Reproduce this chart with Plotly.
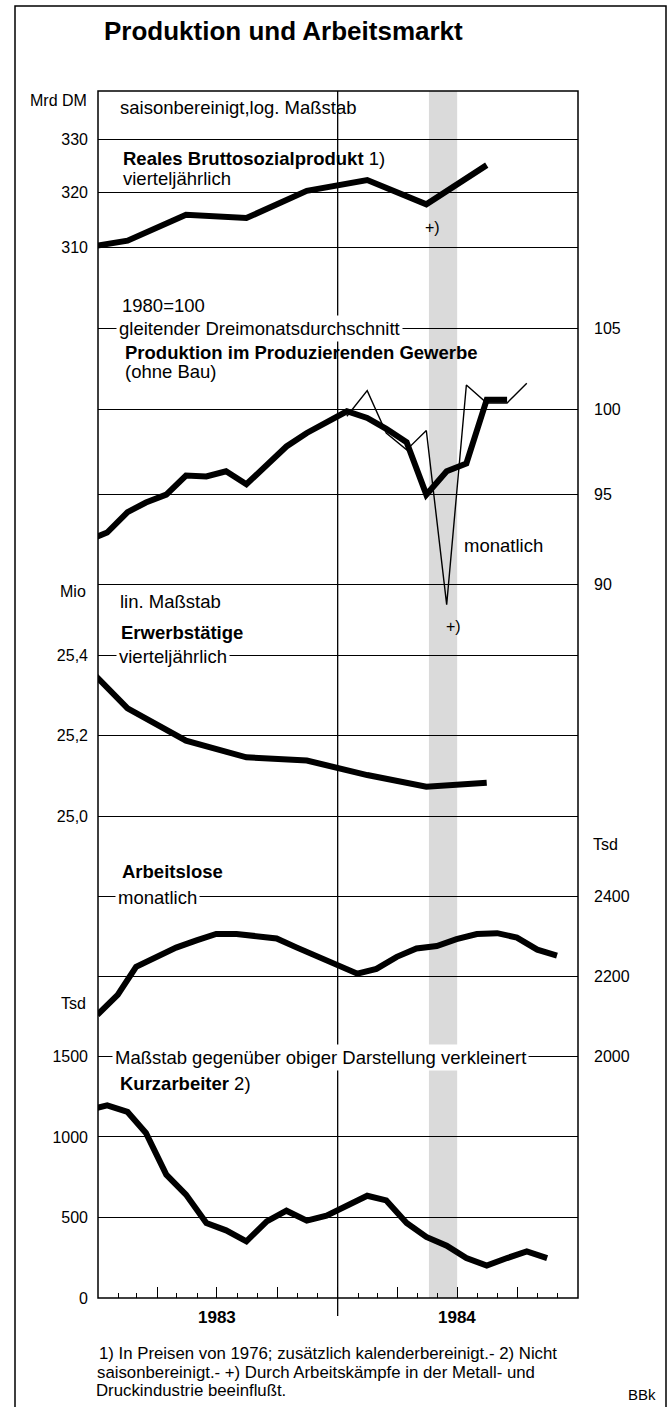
import plotly.graph_objects as go
import pandas as pd
from datetime import date

# ---------------- data ----------------
# quarterly series, plotted at quarter centres (Q4 1982 ... Q3 1984)
quarter_dates = ["1982-11-15", "1983-02-15", "1983-05-15", "1983-08-15",
                 "1983-11-15", "1984-02-15", "1984-05-15", "1984-08-15"]
gnp = [309.4, 311.2, 315.9, 315.3, 320.3, 322.3, 317.8, 325.1]          # Mrd DM
employed = [25.42, 25.268, 25.188, 25.147, 25.139, 25.103, 25.074, 25.084]  # Mio

# production, 3-month moving average (Dec 1982 ... Sep 1984), 1980=100
prod_avg_months = pd.date_range("1982-12-01", periods=22, freq="MS") + pd.Timedelta(days=14)
prod_avg = [92.4, 92.85, 94.0, 94.55, 95.0, 96.1, 96.05, 96.35, 95.6, 96.7, 97.8,
            98.6, 99.25, 99.9, 99.5, 98.85, 98.05, 95.0, 96.35, 96.8, 100.6, 100.6]
# production, monthly (Jan 1984 ... Oct 1984)
prod_month_months = pd.date_range("1984-01-01", periods=10, freq="MS") + pd.Timedelta(days=14)
prod_month = [99.6, 101.15, 98.6, 97.6, 98.75, 88.9, 101.5, 100.4, 100.4, 101.6]

# unemployed, end of month (Dec 1982 ... Nov 1984), Tsd
unemp_months = pd.date_range("1983-01-01", periods=24, freq="MS") - pd.Timedelta(days=1)
unemployed = [2104, 2154, 2224, 2249, 2272, 2290, 2306, 2306, 2302, 2295, 2272, 2252,
              2231, 2207, 2219, 2249, 2270, 2276, 2293, 2306, 2308, 2297, 2267, 2252]

# short-time workers (Dec 1982 ... Nov 1984), Tsd
short_months = pd.date_range("1982-12-01", periods=24, freq="MS") + pd.Timedelta(days=14)
short_time = [1165, 1196, 1155, 1025, 766, 642, 466, 420, 352, 476, 542, 480,
              511, 569, 635, 606, 466, 379, 325, 248, 201, 248, 289, 248]

gnp_ticks = [310, 320, 330]
prod_ticks = [90, 95, 100, 105]
emp_ticks = [25.0, 25.2, 25.4]
emp_ticktext = ["25,0", "25,2", "25,4"]
unemp_ticks = [2000, 2200, 2400]
short_ticks = [0, 500, 1000, 1500]
year_labels = ["1983", "1984"]

strike_start, strike_end = "1984-05-19", "1984-07-01"
x_start, x_end = date(1983, 1, 1), date(1985, 1, 1)

# ---------------- layout geometry ----------------
W, H = 668, 1407
L, R, T, B = 98, 578, 91, 1298
FONT = "Liberation Sans, Arial, Helvetica, sans-serif"
TXT = 18.5


def px(x):
    return (x - L) / (R - L)


def py(y):
    return (B - y) / (B - T)


def dfrac(d):
    return (d - x_start).days / (x_end - x_start).days


fig = go.Figure()
thick = dict(color="black", width=6)
thin = dict(color="black", width=1.4)

fig.add_trace(go.Scatter(x=quarter_dates, y=gnp, yaxis="y", mode="lines", line=thick))
fig.add_trace(go.Scatter(x=prod_avg_months, y=prod_avg, yaxis="y2", mode="lines", line=thick))
fig.add_trace(go.Scatter(x=prod_month_months, y=prod_month, yaxis="y2", mode="lines", line=thin))
fig.add_trace(go.Scatter(x=quarter_dates, y=employed, yaxis="y3", mode="lines", line=thick))
fig.add_trace(go.Scatter(x=unemp_months, y=unemployed, yaxis="y4", mode="lines", line=thick))
fig.add_trace(go.Scatter(x=short_months, y=short_time, yaxis="y5", mode="lines", line=thick))

grid = dict(showgrid=True, gridcolor="black", gridwidth=1.3, zeroline=False,
            ticks="", showline=False, automargin=False, domain=[0, 1],
            tickfont=dict(size=16, color="black", family=FONT))

fig.update_layout(
    width=W, height=H, template="none",
    margin=dict(l=L, r=W - R, t=T, b=H - B, pad=0),
    paper_bgcolor="white", plot_bgcolor="rgba(0,0,0,0)",
    showlegend=False, font=dict(family=FONT, color="black"),
    xaxis=dict(type="date", range=[str(x_start), str(x_end)], showgrid=False,
               zeroline=False, showline=False, showticklabels=False,
               tick0="1983-01-01", dtick="M3", ticks="inside", ticklen=11,
               tickwidth=1.3, tickcolor="black", automargin=False,
               minor=dict(dtick="M1", ticks="inside", ticklen=5, tickwidth=1.3,
                          tickcolor="black", showgrid=False)),
    yaxis=dict(type="log", range=[2.227226, 2.530652], tickvals=gnp_ticks,
               side="left", ticklabelstandoff=9, **grid),
    yaxis2=dict(type="log", range=[1.767195, 2.083495], tickvals=prod_ticks,
                side="right", overlaying="y", anchor="x", ticklabelstandoff=15, **grid),
    yaxis3=dict(range=[23.8094, 26.79518], tickvals=emp_ticks, ticktext=emp_ticktext,
                side="left", overlaying="y", anchor="x", ticklabelstandoff=9, **grid),
    yaxis4=dict(range=[1397.7, 4409.5], tickvals=unemp_ticks,
                side="right", overlaying="y", anchor="x", ticklabelstandoff=15, **grid),
    yaxis5=dict(range=[0, 7494], tickvals=short_ticks,
                side="left", overlaying="y", anchor="x", ticklabelstandoff=9, **grid),
)

shapes = [
    # strike period shading
    dict(type="rect", xref="x", yref="paper", x0=strike_start, x1=strike_end, y0=0, y1=1,
         fillcolor="#dadada", line=dict(width=0), layer="below"),
    # plot frame
    dict(type="rect", xref="paper", yref="paper", x0=0, x1=1, y0=0, y1=1,
         line=dict(color="black", width=1.5)),
    # year separator
    dict(type="line", xref="paper", yref="paper", x0=dfrac(date(1984, 1, 1)),
         x1=dfrac(date(1984, 1, 1)), y0=py(1316), y1=1, line=dict(color="black", width=1.3)),
    # outer frame
    dict(type="rect", xref="paper", yref="paper", x0=px(15), x1=px(666), y0=py(1412), y1=py(6),
         line=dict(color="black", width=1.5)),
]
fig.update_layout(shapes=shapes)

anns = []


def label(text, x, y, size=TXT, xanchor="left", bg=None, pad=0):
    d = dict(text=text, x=px(x), y=py(y), xref="paper", yref="paper", xanchor=xanchor,
             yanchor="middle", showarrow=False, align="left",
             font=dict(size=size, color="black", family=FONT))
    if bg:
        d.update(bgcolor=bg, borderpad=pad)
    anns.append(d)


label("<b>Produktion und Arbeitsmarkt</b>", 102, 31, size=26)
label("Mrd DM", 89, 100, size=16, xanchor="right")
label("saisonbereinigt,log. Maßstab", 118, 108)
label("<b>Reales Bruttosozialprodukt</b> 1)", 121, 158)
label("vierteljährlich", 121, 178)
label("+)", 423, 228, size=16)

label("1980=100", 120, 305)
label("gleitender Dreimonatsdurchschnitt", 116, 328, bg="white", pad=2)
label("<b>Produktion im Produzierenden Gewerbe</b>", 123, 352)
label("(ohne Bau)", 123, 372)
label("monatlich", 462, 545)

label("Mio", 88, 591, size=16, xanchor="right")
label("lin. Maßstab", 118, 601)
label("+)", 444, 626, size=16)
label("<b>Erwerbstätige</b>", 119, 632)
label("vierteljährlich", 116, 656, bg="white", pad=2)

label("Tsd", 591, 844, size=16)
label("<b>Arbeitslose</b>", 120, 872)
label("monatlich", 115, 897, bg="white", pad=2)
label("Tsd", 88, 1003, size=16, xanchor="right")
label("Maßstab gegenüber obiger Darstellung verkleinert", 112, 1057, bg="white", pad=2)
label("<b>Kurzarbeiter</b> 2)", 118, 1083)

for i, yl in enumerate(year_labels):
    d = date(1983 + i, 7, 1)
    anns.append(dict(text=f"<b>{yl}</b>", x=dfrac(d), y=py(1317), xref="paper", yref="paper",
                     xanchor="center", yanchor="middle", showarrow=False,
                     font=dict(size=17, color="black", family=FONT)))

label("1) In Preisen von 1976; zusätzlich kalenderbereinigt.- 2) Nicht", 97, 1353, size=16.8)
label("saisonbereinigt.- +) Durch Arbeitskämpfe in der Metall- und", 95, 1372, size=16.8)
label("Druckindustrie beeinflußt.", 94, 1390, size=16.8)
label("BBk", 626, 1394, size=15)

fig.update_layout(annotations=anns)
fig.write_html("out.html", config={"displayModeBar": False},
               post_script="document.body.style.margin='0px';")
